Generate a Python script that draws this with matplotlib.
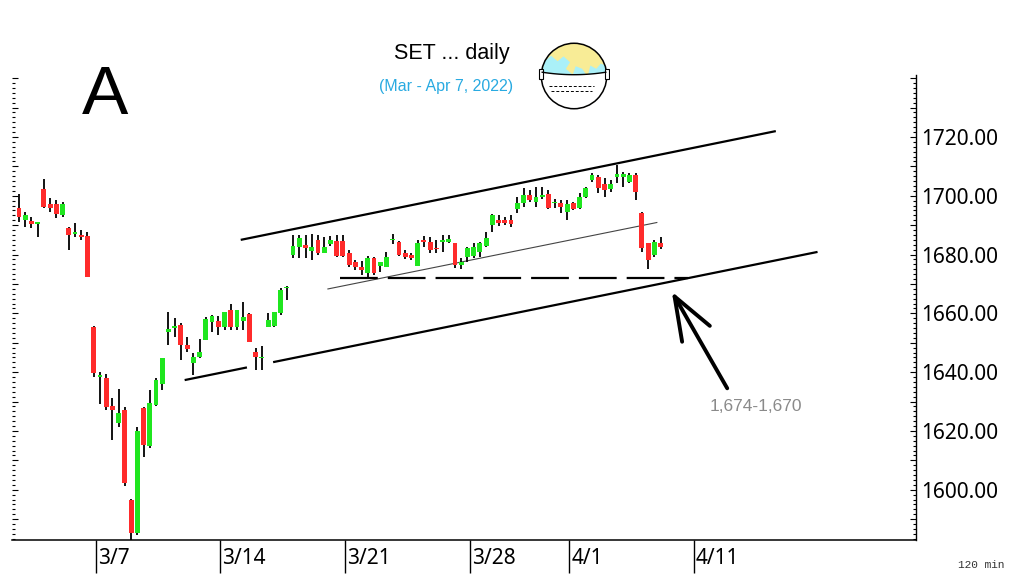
import matplotlib
matplotlib.use("Agg")
import matplotlib.pyplot as plt
import numpy as np
from matplotlib.patches import Circle, Polygon, Rectangle
from matplotlib.ticker import MultipleLocator, FuncFormatter

# 120-min bars, 4 per trading day, starting 3/2/2022 (index 0)
opens = [1695.8, 1691.8, 1691.4, 1690.5, 1702.3, 1697.1, 1697.3, 1693.5,
         1689.0, 1687.1, 1686.7, 1686.3, 1655.5, 1638.3, 1638.1, 1628.6,
         1622.6, 1627.2, 1596.5, 1585.4, 1627.7, 1614.9, 1628.9, 1636.0,
         1653.8, 1654.9, 1656.1, 1649.3, 1643.0, 1645.3, 1651.0, 1657.2,
         1657.4, 1655.5, 1661.0, 1655.5, 1657.4, 1659.8, 1647.0, 1644.7,
         1655.5, 1655.7, 1660.0, 1668.5, 1679.9, 1682.5, 1683.3, 1681.3,
         1685.0, 1680.7, 1683.6, 1684.7, 1684.7, 1680.7, 1677.3, 1675.9,
         1673.6, 1678.7, 1676.0, 1675.9, 1684.8, 1684.4, 1680.4, 1679.9,
         1676.1, 1685.0, 1684.4, 1682.1, 1684.4, 1684.4, 1684.1, 1676.5,
         1679.3, 1679.5, 1681.0, 1682.9, 1690.1, 1691.8, 1691.8, 1691.8,
         1695.4, 1697.4, 1700.3, 1698.0, 1699.7, 1700.6, 1697.4, 1697.7,
         1694.6, 1697.4, 1695.7, 1699.5, 1705.4, 1706.5, 1704.0, 1702.2,
         1706.3, 1706.3, 1704.8, 1707.1, 1694.0, 1683.9, 1679.9, 1683.9]
highs = [1700.5, 1694.4, 1692.9, 1691.2, 1705.7, 1699.4, 1698.4, 1697.8,
         1689.3, 1690.9, 1688.2, 1687.8, 1655.7, 1640.2, 1639.3, 1631.1,
         1634.3, 1628.1, 1596.7, 1621.5, 1628.3, 1634.0, 1638.0, 1644.9,
         1660.4, 1658.3, 1656.6, 1652.1, 1646.4, 1651.3, 1658.9, 1659.5,
         1659.1, 1660.6, 1663.1, 1661.0, 1663.7, 1660.0, 1648.1, 1648.9,
         1660.0, 1660.6, 1668.5, 1669.3, 1686.7, 1686.7, 1686.7, 1687.0,
         1686.7, 1686.1, 1686.3, 1686.7, 1686.7, 1681.6, 1678.2, 1677.9,
         1679.5, 1679.3, 1677.6, 1681.0, 1687.0, 1684.7, 1681.6, 1680.7,
         1685.0, 1686.3, 1686.1, 1684.9, 1686.7, 1686.7, 1684.1, 1678.7,
         1682.7, 1684.1, 1684.4, 1687.8, 1693.8, 1693.5, 1692.9, 1693.5,
         1699.7, 1702.5, 1702.0, 1703.1, 1703.1, 1702.0, 1698.8, 1698.6,
         1698.6, 1698.0, 1700.8, 1703.1, 1707.7, 1707.1, 1705.9, 1705.4,
         1710.5, 1708.2, 1707.9, 1707.9, 1694.6, 1683.9, 1685.0, 1686.1]
lows = [1691.2, 1689.5, 1689.0, 1685.9, 1696.0, 1694.6, 1692.4, 1692.7,
        1681.6, 1685.9, 1684.8, 1672.2, 1638.5, 1629.2, 1627.2, 1617.0,
        1621.5, 1601.3, 1582.0, 1584.6, 1611.3, 1614.1, 1628.5, 1634.0,
        1649.3, 1652.1, 1644.2, 1646.7, 1639.1, 1644.7, 1650.8, 1653.8,
        1652.7, 1654.4, 1654.4, 1654.4, 1654.4, 1650.1, 1640.8, 1640.8,
        1655.3, 1655.5, 1659.5, 1664.6, 1678.7, 1678.7, 1678.7, 1678.2,
        1679.9, 1680.4, 1683.0, 1679.3, 1679.1, 1675.9, 1674.8, 1673.1,
        1672.0, 1673.0, 1674.2, 1675.9, 1683.7, 1679.5, 1678.4, 1678.0,
        1676.1, 1682.7, 1680.4, 1680.4, 1681.0, 1683.8, 1675.3, 1675.0,
        1677.6, 1678.7, 1679.3, 1682.5, 1687.8, 1689.7, 1690.1, 1689.5,
        1694.0, 1696.3, 1698.0, 1696.3, 1698.8, 1695.4, 1695.7, 1694.3,
        1691.8, 1695.0, 1695.4, 1699.2, 1704.8, 1700.8, 1699.7, 1701.4,
        1704.2, 1703.1, 1704.2, 1698.6, 1681.0, 1675.0, 1679.3, 1681.8]
closes = [1692.7, 1693.3, 1690.5, 1690.9, 1696.3, 1695.8, 1693.7, 1697.3,
          1686.7, 1687.6, 1686.0, 1672.3, 1639.6, 1639.1, 1628.1, 1627.2,
          1626.0, 1602.2, 1585.4, 1620.1, 1615.3, 1629.4, 1637.4, 1644.7,
          1654.6, 1655.7, 1649.3, 1647.8, 1645.1, 1647.0, 1658.0, 1659.1,
          1655.5, 1660.6, 1655.5, 1661.0, 1658.9, 1650.4, 1645.1, 1645.1,
          1657.6, 1660.6, 1668.0, 1669.1, 1682.9, 1685.5, 1682.1, 1682.7,
          1680.4, 1682.7, 1685.0, 1679.5, 1679.5, 1676.5, 1675.7, 1674.8,
          1678.7, 1673.6, 1677.3, 1679.0, 1685.0, 1679.9, 1679.3, 1678.7,
          1684.1, 1684.4, 1681.6, 1681.8, 1684.7, 1685.2, 1676.5, 1677.6,
          1682.1, 1682.7, 1683.8, 1685.5, 1693.5, 1690.6, 1690.6, 1690.4,
          1697.4, 1700.3, 1698.4, 1699.5, 1700.3, 1695.7, 1698.0, 1696.1,
          1697.2, 1695.4, 1699.7, 1702.5, 1707.1, 1702.5, 1702.0, 1704.0,
          1707.4, 1707.4, 1707.1, 1701.4, 1682.1, 1678.2, 1684.4, 1682.5]

# date ticks (bar index of the first bar of that day)
tick_bars = [12, 32, 52, 72, 88, 108]
tick_labels = ["3/7", "3/14", "3/21", "3/28", "4/1", "4/11"]

# channel lines drawn on the chart: (bar, price) endpoints
upper_line = ([35.6, 121.5], [1685.0, 1722.0])
lower_line_a = ([26.6, 36.6], [1637.3, 1641.6])
lower_line_b = ([40.8, 128.2], [1643.4, 1680.9])
mid_line = ([49.6, 102.4], [1668.3, 1690.9])
support_level = 1672.0
support_span = (51.5, 107.4)
arrow_tip = (104.8, 1667.4)
arrow_tail = (113.7, 1634.5)

RED = "#ff2b2b"
GREEN = "#1fe61f"

fig = plt.figure(figsize=(10.24, 5.87), dpi=100)
ax = fig.add_axes([0.0117, 0.0801, 0.8828, 0.7922])

idx = np.arange(len(opens))
o = np.array(opens); h = np.array(highs); l = np.array(lows); c = np.array(closes)
up = c >= o
colors = np.where(up, GREEN, RED)
bottoms = np.minimum(o, c)
heights = np.maximum(np.abs(c - o), 0.45)

ax.plot(*mid_line, color="#444444", lw=0.8, zorder=2)
ax.vlines(idx, l, h, color="black", lw=1.3, zorder=3)
ax.bar(idx, heights, bottom=bottoms, width=0.78, color=colors, zorder=4)

for line in (upper_line, lower_line_a, lower_line_b):
    ax.plot(*line, color="black", lw=1.6, zorder=5, solid_capstyle="butt")
ax.hlines(support_level, *support_span, color="black", lw=1.6,
          linestyles=(0, (17, 4.5)), zorder=5)

ax.annotate("", xy=arrow_tip, xytext=arrow_tail,
            arrowprops=dict(arrowstyle="->,head_length=3.1,head_width=1.15",
                            lw=2.8, color="black", mutation_scale=10,
                            shrinkA=0, shrinkB=0), zorder=6)
ax.text(110.9, 1628.3, "1,674-1,670", color="#8a8a8a", fontsize=12.5,
        family="Liberation Sans", ha="left", va="center")

ax.set_xlim(-1.12, 144.0)
ax.set_ylim(1582.9, 1741.1)

for side in ("top", "left"):
    ax.spines[side].set_visible(False)
ax.spines["bottom"].set_linewidth(1.1)
ax.spines["right"].set_linewidth(1.0)

ax.yaxis.tick_right()
ax.yaxis.set_major_locator(MultipleLocator(10))
ax.yaxis.set_minor_locator(MultipleLocator(10 / 6))
ax.yaxis.set_major_formatter(FuncFormatter(
    lambda v, p: f"{v:.2f}" if round(v) % 20 == 0 and v <= 1725 else ""))
ax.tick_params(axis="y", which="both", left=True, right=True, direction="in",
               labelsize=15, pad=4)
ax.tick_params(axis="y", which="major", length=4, width=0.8)
ax.tick_params(axis="y", which="minor", length=2.2, width=0.8)
for lab in ax.get_yticklabels():
    lab.set_family("Noto Sans")

tick_pos = [b + 0.35 for b in tick_bars]
ax.set_xticks(tick_pos)
ax.set_xticklabels([])
ax.tick_params(axis="x", direction="out", length=24, width=1.0)
for pos, lbl in zip(tick_pos, tick_labels):
    ax.annotate(lbl, xy=(pos, 0), xycoords=("data", "axes fraction"),
                xytext=(1.5, -13.5), textcoords="offset points",
                ha="left", va="center", fontsize=15, family="Noto Sans")

fig.text(452 / 1024, 1 - 53 / 587, "SET ... daily", fontsize=15.5,
         family="Liberation Sans", ha="center", va="center")
fig.text(446.5 / 1024, 1 - 87 / 587, "(Mar - Apr 7, 2022)", fontsize=11.5,
         family="Liberation Sans", color="#29aae1", ha="center", va="center")
fig.text(105 / 1024, 1 - 96 / 587, "A", fontsize=50, family="Liberation Sans",
         ha="center", va="center")
fig.text(958 / 1024, 1 - 565 / 587, "120 min", fontsize=8,
         family="Liberation Mono", color="#333333", ha="left", va="center")

# little globe-with-mask icon
gx = fig.add_axes([538 / 1024, 1 - 112 / 587, 72 / 1024, 72 / 587])
gx.set_xlim(-1.1, 1.1); gx.set_ylim(-1.1, 1.1)
gx.set_aspect("equal"); gx.axis("off")
globe = Circle((0, 0), 1, facecolor="#f8ec96", edgecolor="none")
gx.add_patch(globe)
clip = Circle((0, 0), 1, transform=gx.transData)
blobs = [
    [(-1.0, 0.0), (-0.9, 0.45), (-0.7, 0.62), (-0.5, 0.45), (-0.32, 0.6),
     (-0.12, 0.42), (-0.25, 0.22), (-0.05, 0.05), (-1.0, -0.05)],
    [(-0.05, 0.0), (0.05, 0.3), (0.25, 0.22), (0.4, 0.0)],
    [(0.42, 0.0), (0.5, 0.32), (0.68, 0.22), (0.82, 0.38), (1.0, 0.3), (1.0, 0.0)],
]
for pts in blobs:
    p = Polygon(pts, closed=True, facecolor="#aaf0f8", edgecolor="none")
    gx.add_patch(p)
    p.set_clip_path(clip)
xs = np.linspace(-1.1, 1.1, 40)
top = 0.12 - 0.08 * (1 - xs ** 2)
mask_pts = list(zip(xs, top)) + [(1.1, -1.2), (-1.1, -1.2)]
mask = Polygon(mask_pts, closed=True, facecolor="white", edgecolor="none")
gx.add_patch(mask)
mask.set_clip_path(clip)
edge, = gx.plot(xs, top, color="black", lw=1.0)
edge.set_clip_path(clip)
gx.add_patch(Circle((0, 0), 1, facecolor="none", edgecolor="black", lw=1.1))
for yy, x0, x1 in ((-0.3, -0.75, 0.6), (-0.45, -0.7, 0.55)):
    gx.plot([x0, x1], [yy, yy], color="black", lw=0.7, ls=(0, (3, 2)))
gx.add_patch(Rectangle((-1.06, -0.1), 0.12, 0.3, facecolor="white", edgecolor="black", lw=0.8))
gx.add_patch(Rectangle((0.94, -0.1), 0.12, 0.3, facecolor="white", edgecolor="black", lw=0.8))

fig.savefig("out.png", dpi=100)
